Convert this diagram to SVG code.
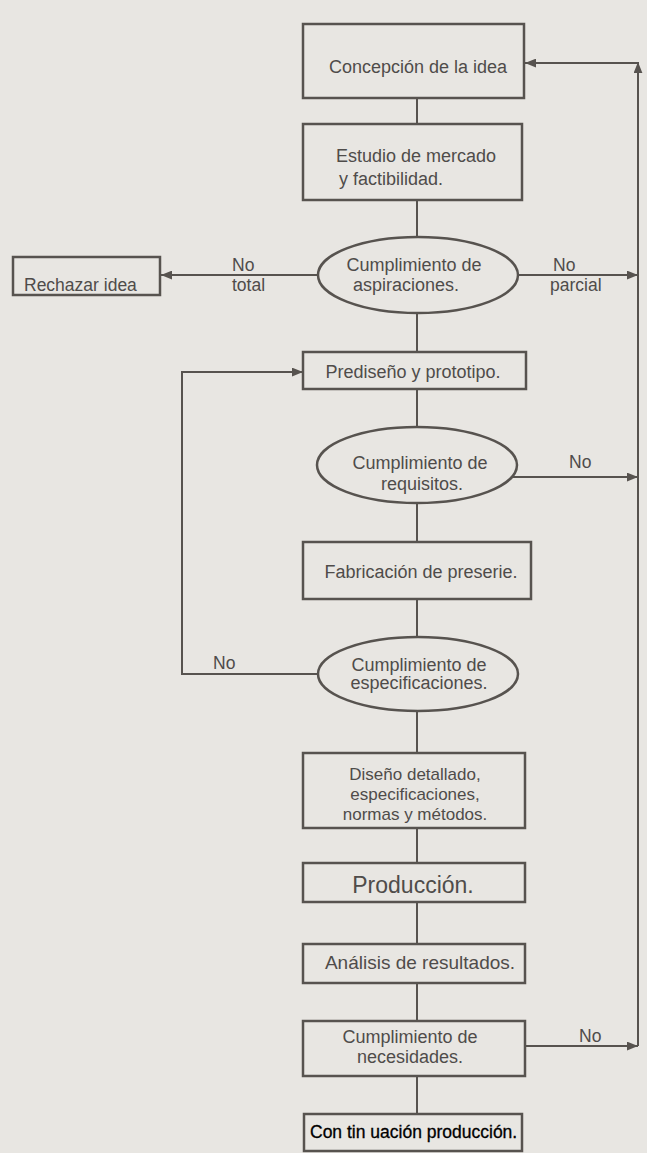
<svg xmlns="http://www.w3.org/2000/svg" width="647" height="1153" viewBox="0 0 647 1153">
<style>
.bx{fill:none;stroke:#57534f;stroke-width:2.5}
.ln{fill:none;stroke:#57534f;stroke-width:2}
.t{font-family:"Liberation Sans",Arial,sans-serif;font-size:18px;fill:#4f4c4a;text-anchor:middle}
.tl{font-family:"Liberation Sans",Arial,sans-serif;font-size:17.5px;fill:#4f4c4a}
</style>
<defs>
<marker id="ah" viewBox="0 0 10 8" refX="10" refY="4" markerWidth="11" markerHeight="9" orient="auto" markerUnits="userSpaceOnUse">
<path d="M0,0 L10,4 L0,8 Z" fill="#57534f"/>
</marker>
</defs>
<rect width="647" height="1153" fill="#e8e6e2"/>
<g id="connectors">
<line class="ln" x1="417" y1="98" x2="417" y2="124"/>
<line class="ln" x1="417" y1="200" x2="417" y2="237"/>
<line class="ln" x1="417" y1="313" x2="417" y2="352"/>
<line class="ln" x1="417" y1="389" x2="417" y2="427"/>
<line class="ln" x1="417" y1="503" x2="417" y2="542"/>
<line class="ln" x1="417" y1="599" x2="417" y2="637"/>
<line class="ln" x1="417" y1="711" x2="417" y2="753"/>
<line class="ln" x1="417" y1="828" x2="417" y2="863"/>
<line class="ln" x1="417" y1="902" x2="417" y2="944"/>
<line class="ln" x1="417" y1="983" x2="417" y2="1021"/>
<line class="ln" x1="417" y1="1076" x2="417" y2="1114"/>
<line class="ln" x1="318" y1="275" x2="161" y2="275" marker-end="url(#ah)"/>
<line class="ln" x1="518" y1="275" x2="638" y2="275" marker-end="url(#ah)"/>
<line class="ln" x1="512" y1="477" x2="638" y2="477" marker-end="url(#ah)"/>
<line class="ln" x1="525" y1="1046" x2="638" y2="1046" marker-end="url(#ah)"/>
<line class="ln" x1="638" y1="1046" x2="638" y2="62" marker-end="url(#ah)"/>
<line class="ln" x1="638" y1="63" x2="525" y2="63" marker-end="url(#ah)"/>
<polyline class="ln" points="319,674 182,674 182,372 303,372" marker-end="url(#ah)"/>
<text class="tl" x="232" y="271">No</text>
<text class="tl" x="232" y="291">total</text>
<text class="tl" x="553" y="271">No</text>
<text class="tl" x="550" y="291">parcial</text>
<text class="tl" x="569" y="468">No</text>
<text class="tl" x="213" y="669">No</text>
<text class="tl" x="579" y="1042">No</text>
</g>
<g id="n1"><rect class="bx" x="303" y="24" width="221" height="74"/><text class="t" x="418" y="73">Concepción de la idea</text></g>
<g id="n2"><rect class="bx" x="303" y="124" width="219" height="76"/><text class="t" x="416" y="162">Estudio de mercado</text><text class="tl" x="339" y="185" style="font-size:18px">y factibilidad.</text></g>
<g id="n3"><ellipse class="bx" cx="418" cy="275" rx="100" ry="38"/><text class="t" x="414" y="271">Cumplimiento de</text><text class="t" x="406" y="291">aspiraciones.</text></g>
<g id="n4"><rect class="bx" x="13" y="257" width="147" height="38"/><text class="tl" x="24" y="291">Rechazar idea</text></g>
<g id="n5"><rect class="bx" x="303" y="352" width="223" height="37"/><text class="t" x="413" y="378">Prediseño y prototipo.</text></g>
<g id="n6"><ellipse class="bx" cx="417" cy="465" rx="100" ry="38"/><text class="t" x="420" y="469">Cumplimiento de</text><text class="t" x="422" y="490">requisitos.</text></g>
<g id="n7"><rect class="bx" x="303" y="542" width="228" height="57"/><text class="t" x="421" y="578">Fabricación de preserie.</text></g>
<g id="n8"><ellipse class="bx" cx="418" cy="674" rx="100" ry="37"/><text class="t" x="419" y="671">Cumplimiento de</text><text class="t" x="419" y="689">especificaciones.</text></g>
<g id="n9"><rect class="bx" x="303" y="753" width="222" height="75"/><text class="t" x="415" y="780" style="font-size:17px">Diseño detallado,</text><text class="t" x="415" y="800" style="font-size:17px">especificaciones,</text><text class="t" x="415" y="820" style="font-size:17px">normas y métodos.</text></g>
<g id="n10"><rect class="bx" x="303" y="863" width="222" height="39"/><text class="t" x="413" y="893" style="font-size:23px">Producción.</text></g>
<g id="n11"><rect class="bx" x="303" y="944" width="222" height="39"/><text class="t" x="420" y="969" style="font-size:19px">Análisis de resultados.</text></g>
<g id="n12"><rect class="bx" x="303" y="1021" width="222" height="55"/><text class="t" x="410" y="1043">Cumplimiento de</text><text class="t" x="410" y="1063">necesidades.</text></g>
<g id="n13"><rect class="bx" x="304" y="1114" width="218" height="37"/><text class="t" x="310" y="1138" style="fill:#000;font-size:17.5px;text-anchor:start;stroke:#000;stroke-width:0.3">Con tin uación producción.</text></g>
</svg>
